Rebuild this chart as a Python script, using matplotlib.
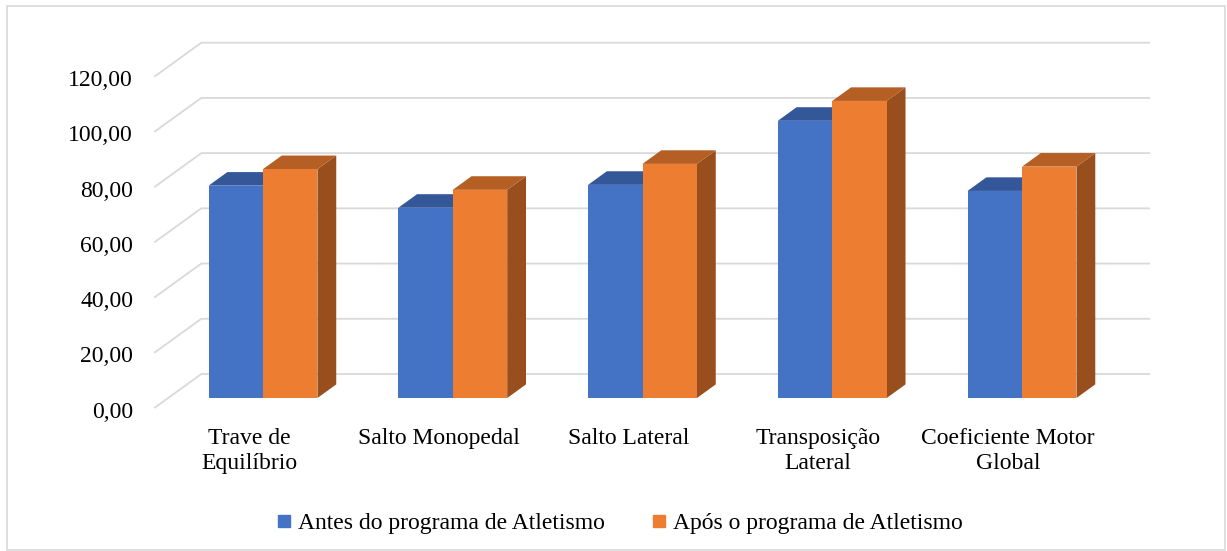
import matplotlib
matplotlib.use("Agg")
import matplotlib.pyplot as plt
from matplotlib.patches import Polygon, Rectangle
from matplotlib.lines import Line2D
from matplotlib.transforms import Affine2D
import numpy as np

plt.rcParams['font.family'] = ['Liberation Serif', 'DejaVu Serif']

categories = ["Trave de\nEquilíbrio", "Salto Monopedal", "Salto Lateral",
              "Transposição\nLateral", "Coeficiente Motor\nGlobal"]
antes = [76.9, 68.9, 77.2, 100.4, 75.0]
apos = [82.9, 75.4, 84.8, 107.6, 83.8]
series_names = ["Antes do programa de Atletismo", "Após o programa de Atletismo"]
yticks = [0, 20, 40, 60, 80, 100, 120]
ytick_labels = ["0,00", "20,00", "40,00", "60,00", "80,00", "100,00", "120,00"]

front_colors = ["#4472C4", "#ED7D31"]
top_colors = ["#34579A", "#B55F24"]
side_colors = ["#2F5090", "#994F1D"]

W, H = 1227, 551
fig = plt.figure(figsize=(W / 100, H / 100), dpi=100)
fig.patch.set_facecolor("white")

# axes = bar front plane
x_left, x_right = 168.1, 1116.9
y0_img, y120_img = 398.0, 66.7
ax = fig.add_axes([x_left / W, (H - y0_img) / H, (x_right - x_left) / W, (y0_img - y120_img) / H])
ax.set_xlim(-0.5, 4.5)
ax.set_ylim(0, 120)
ax.axis("off")

# offsets in display pixels
wall_back = (33.2, 24.0)
wall_front = (-13.8, -10.0)
bar_depth = (18.8, 13.6)

def shift(dx, dy):
    return ax.transData + Affine2D().translate(dx, dy)

def to_data(pts_disp):
    return ax.transData.inverted().transform(pts_disp)

grid_c = "#D9D9D9"
for v in yticks:
    p1 = ax.transData.transform((-0.5, v)) + np.array(wall_front)
    p2 = ax.transData.transform((-0.5, v)) + np.array(wall_back)
    p3 = ax.transData.transform((4.5, v)) + np.array(wall_back)
    pts = to_data([p1, p2, p3])
    ax.plot(pts[:, 0], pts[:, 1], color=grid_c, lw=1.3, clip_on=False, zorder=1,
            solid_capstyle="butt")

for v, lab in zip(yticks, ytick_labels):
    ax.text(-0.5, v, lab, transform=shift(-35, -14), ha="right", va="center",
            fontsize=17, color="#000000")

bw = 0.287
x = np.arange(len(categories))
for si, vals in enumerate([antes, apos]):
    xs = x - bw + si * bw
    for xi, v in zip(xs, vals):
        d = np.array(bar_depth)
        fl = ax.transData.transform((xi, 0))
        fr = ax.transData.transform((xi + bw, 0))
        tl = ax.transData.transform((xi, v))
        tr = ax.transData.transform((xi + bw, v))
        side = to_data([fr, tr, tr + d, fr + d])
        top = to_data([tl, tr, tr + d, tl + d])
        z = 3 + si * 2
        ax.add_patch(Polygon(side, closed=True, facecolor=side_colors[si], edgecolor="none",
                             zorder=z, clip_on=False))
        ax.add_patch(Polygon(top, closed=True, facecolor=top_colors[si], edgecolor="none",
                             zorder=z, clip_on=False))
    ax.bar(xs, vals, width=bw, align="edge", color=front_colors[si], zorder=3 + si * 2 + 1,
           clip_on=False)

for xi, lab in zip(x, categories):
    ax.text(xi, 0, lab, transform=shift(-14, -30), ha="center", va="top",
            fontsize=17, linespacing=1.22, color="#000000")

handles = [Line2D([], [], marker="s", linestyle="none", markersize=9,
                  markerfacecolor=c, markeredgecolor=c) for c in front_colors]
fig.legend(handles, series_names, loc="center", bbox_to_anchor=(0.505, 0.05),
           ncol=2, frameon=False, fontsize=17, handlelength=0.6, handletextpad=0.3,
           columnspacing=2.0)

fig.add_artist(Rectangle((7 / W, 1.5 / H), (1225 - 7) / W, (545 - 1.5) / H,
                         transform=fig.transFigure, fill=False, edgecolor="#D9D9D9", lw=1.2))

fig.savefig("out.png", dpi=100, facecolor="white")
